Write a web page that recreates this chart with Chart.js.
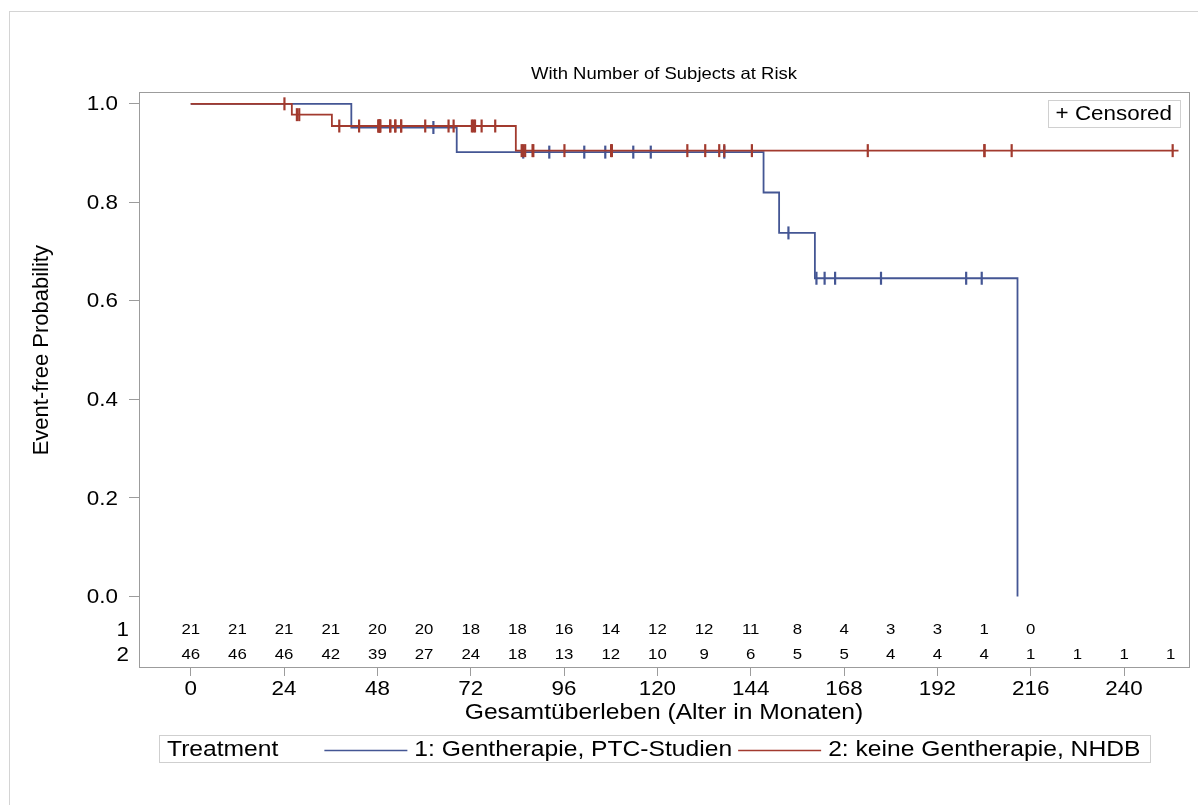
<!DOCTYPE html>
<html>
<head>
<meta charset="utf-8">
<script src="https://cdn.jsdelivr.net/npm/chart.js@4.4.1/dist/chart.umd.min.js"></script>
<style>
  html, body { margin: 0; padding: 0; background: #fff; }
  #wrap { position: relative; width: 1198px; height: 805px; }
  canvas { display: block; }
</style>
</head>
<body>
<div id="wrap"><canvas id="km" width="1198" height="805"></canvas></div>
<script>
// Kaplan-Meier estimates: event times (months) and event-free probability after each step
const group1Label = '1: Gentherapie, PTC-Studien';
const group2Label = '2: keine Gentherapie, NHDB';

const group1StepTimes = [0, 41.3, 68.4, 147.3, 151.3, 160.5, 212.6];
const group1StepSurv  = [1.0, 0.952, 0.902, 0.820, 0.738, 0.646, 0.0];
const group1Censored  = [62.4, 85.5, 92.2, 101.2, 106.6, 113.8, 118.3, 137.2,
                         153.7, 160.9, 163.0, 165.7, 177.5, 199.4, 203.4];

const group2StepTimes = [0, 26.0, 36.3, 83.6, 254.0];
const group2StepSurv  = [1.0, 0.978, 0.955, 0.905, 0.905];
const group2Censored  = [24.1, 27.3, 27.9, 38.2, 43.3, 48.3, 48.3, 48.3, 48.7, 48.7, 48.7,
                         51.3, 51.3, 52.6, 52.6, 54.1, 54.1, 60.3, 66.3, 67.6, 72.3, 72.7,
                         73.1, 74.8, 78.3, 85.1, 85.5, 86.0, 87.9, 88.1, 96.1, 108.1, 108.3,
                         127.7, 132.3, 135.9, 137.2, 144.3, 174.1, 204.1, 204.1, 211.1, 252.5];

// Number of subjects at risk, every 12 months
const riskTimes = [0, 12, 24, 36, 48, 60, 72, 84, 96, 108, 120, 132, 144, 156, 168, 180, 192, 204, 216, 228, 240, 252];
const risk1 = [21, 21, 21, 21, 20, 20, 18, 18, 16, 14, 12, 12, 11, 8, 4, 3, 3, 1, 0];
const risk2 = [46, 46, 46, 42, 39, 27, 24, 18, 13, 12, 10, 9, 6, 5, 5, 4, 4, 4, 1, 1, 1, 1];

const xTickValues = [0, 24, 48, 72, 96, 120, 144, 168, 192, 216, 240];
const yTickValues = [0, 0.2, 0.4, 0.6, 0.8, 1.0];

const titleText = 'With Number of Subjects at Risk';
const xTitleText = 'Gesamtüberleben (Alter in Monaten)';
const yTitleText = 'Event-free Probability';

const BLUE = '#445694';
const RED  = '#A23A2E';
const AXIS = '#9c9c9c';
const FONT = '"Liberation Sans", Arial, sans-serif';
const WIDE = 1.12;   // horizontal glyph scale used for horizontal text

// value of a step curve at time t (censor marks sit on the curve)
function survAt(times, surv, t) {
  let s = surv[0];
  for (let i = 0; i < times.length; i++) { if (times[i] <= t) s = surv[i]; }
  return s;
}
const stepPoints = (times, surv) => times.map((t, i) => ({ x: t, y: surv[i] }));
const censorPoints = (cens, times, surv) => cens.map(t => ({ x: t, y: survAt(times, surv, t) }));

// text drawn with a wide glyph scale (or rotated, unscaled); returns the drawn width
function wideText(ctx, text, x, y, size, align, rotate) {
  ctx.save();
  ctx.font = size + 'px ' + FONT;
  ctx.fillStyle = '#000';
  ctx.textAlign = align || 'left';
  ctx.textBaseline = 'middle';
  ctx.translate(x, y);
  if (rotate) ctx.rotate(-Math.PI / 2);
  else ctx.scale(WIDE, 1);
  ctx.fillText(text, 0, 0);
  const w = ctx.measureText(text).width * (rotate ? 1 : WIDE);
  ctx.restore();
  return w;
}
function wideWidth(ctx, text, size) {
  ctx.save();
  ctx.font = size + 'px ' + FONT;
  const w = ctx.measureText(text).width * WIDE;
  ctx.restore();
  return w;
}

// frame, labels, inset key, at-risk table, legend and outer border
const decorations = {
  id: 'decorations',
  afterDraw(chart) {
    const { ctx, chartArea: a, scales: { x, y } } = chart;
    ctx.save();
    // outer border
    ctx.strokeStyle = '#d4d4d4';
    ctx.lineWidth = 1;
    ctx.strokeRect(9.5, 11.5, 1300, 900);
    // plot frame
    ctx.strokeStyle = AXIS;
    ctx.strokeRect(Math.round(a.left) + 0.5, Math.round(a.top) + 0.5,
                   Math.round(a.right - a.left), Math.round(a.bottom - a.top));

    // title
    wideText(ctx, titleText, (a.left + a.right) / 2, 74, 16.5, 'center');

    // tick labels
    yTickValues.forEach(v => wideText(ctx, v.toFixed(1), a.left - 21, y.getPixelForValue(v) + 1, 20, 'right'));
    xTickValues.forEach(v => wideText(ctx, String(v), x.getPixelForValue(v), 689, 20, 'center'));

    // axis titles
    wideText(ctx, xTitleText, (a.left + a.right) / 2, 713, 22, 'center');
    wideText(ctx, yTitleText, 42, y.getPixelForValue(0.5), 22, 'center', true);

    // "+ Censored" key
    const ck = '+ Censored';
    const cw = wideWidth(ctx, ck, 20);
    const bx1 = a.right - 9, bx0 = bx1 - cw - 16, by0 = a.top + 8, by1 = by0 + 27;
    ctx.strokeStyle = '#d0d0d0';
    ctx.strokeRect(Math.round(bx0) + 0.5, Math.round(by0) + 0.5, Math.round(bx1 - bx0), by1 - by0);
    wideText(ctx, ck, bx0 + 8, (by0 + by1) / 2 + 1, 20, 'left');

    // at-risk table
    const rowY = [y.getPixelForValue(-0.068), y.getPixelForValue(-0.119)];
    [risk1, risk2].forEach((r, k) => {
      r.forEach((n, i) => wideText(ctx, String(n), x.getPixelForValue(riskTimes[i]), rowY[k], 15, 'center'));
    });
    wideText(ctx, '1', a.left - 10, rowY[0], 20, 'right');
    wideText(ctx, '2', a.left - 10, rowY[1], 20, 'right');

    // legend
    const top = 735, bottom = 762, left = 159;
    const my = (top + bottom) / 2 + 1;
    let cx = left + 8;
    cx += wideText(ctx, 'Treatment', cx, my, 22, 'left') + 46;
    [[BLUE, group1Label], [RED, group2Label]].forEach(([c, label], i) => {
      ctx.strokeStyle = c;
      ctx.lineWidth = 1.5;
      ctx.beginPath();
      ctx.moveTo(cx, Math.round(my) + 0.5);
      ctx.lineTo(cx + 83, Math.round(my) + 0.5);
      ctx.stroke();
      cx += 90;
      cx += wideText(ctx, label, cx, my, 22, 'left') + (i === 0 ? 6 : 10);
    });
    ctx.strokeStyle = '#cfcfcf';
    ctx.lineWidth = 1;
    ctx.strokeRect(left + 0.5, top + 0.5, Math.round(cx - left), bottom - top);
    ctx.restore();
  }
};

const stepStyle = (color, order) => ({
  showLine: true, stepped: 'before', borderColor: color, backgroundColor: color,
  borderWidth: 1.8, pointRadius: 0, pointHoverRadius: 0, fill: false, order
});
const censorStyle = (color, order) => ({
  showLine: false, pointStyle: 'line', rotation: 90, pointRadius: 6.5, pointHoverRadius: 6.5,
  pointBorderWidth: 2.2, borderColor: color, backgroundColor: color, order
});

new Chart(document.getElementById('km'), {
  type: 'scatter',
  data: {
    datasets: [
      { label: group1Label, data: stepPoints(group1StepTimes, group1StepSurv), ...stepStyle(BLUE, 3) },
      { label: group1Label + ' censored', data: censorPoints(group1Censored, group1StepTimes, group1StepSurv), ...censorStyle(BLUE, 2) },
      { label: group2Label, data: stepPoints(group2StepTimes, group2StepSurv), ...stepStyle(RED, 1) },
      { label: group2Label + ' censored', data: censorPoints(group2Censored, group2StepTimes, group2StepSurv), ...censorStyle(RED, 0) }
    ]
  },
  options: {
    responsive: false,
    animation: false,
    events: [],
    layout: { padding: { left: 0, right: 9, top: 92, bottom: 78 } },
    plugins: {
      legend: { display: false },
      tooltip: { enabled: false },
      title: { display: false }
    },
    scales: {
      x: {
        type: 'linear', min: -13.3, max: 256.7,
        afterBuildTicks: s => { s.ticks = xTickValues.map(v => ({ value: v })); },
        afterFit: s => { s.height = 60; },
        grid: { display: true, drawOnChartArea: false, drawTicks: true, tickLength: 9, color: AXIS },
        border: { display: false },
        ticks: { display: false },
        title: { display: false }
      },
      y: {
        type: 'linear', min: -0.143, max: 1.024,
        afterBuildTicks: s => { s.ticks = yTickValues.map(v => ({ value: v })); },
        afterFit: s => { s.width = 139; },
        grid: { display: true, drawOnChartArea: false, drawTicks: true, tickLength: 10, color: AXIS },
        border: { display: false },
        ticks: { display: false },
        title: { display: false }
      }
    }
  },
  plugins: [decorations]
});
</script>
</body>
</html>
